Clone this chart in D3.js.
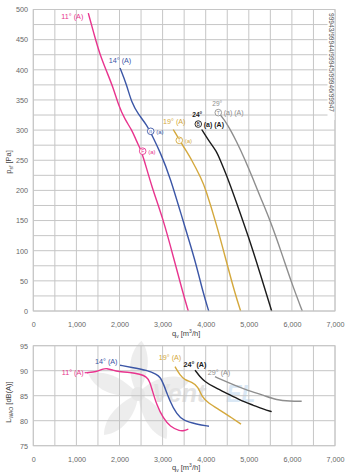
<!DOCTYPE html>
<html><head><meta charset="utf-8">
<script src="https://cdn.jsdelivr.net/npm/d3@7"></script>
<style>
html,body{margin:0;padding:0;background:#fff;}
svg{display:block;font-family:"Liberation Sans",Arial,Helvetica,sans-serif;}
</style></head>
<body><svg id="c" width="355" height="473"></svg>
<script>
// ---- data ----
const flowTicks = [0,1000,2000,3000,4000,5000,6000,7000];
const pressureTicks = [0,50,100,150,200,250,300,350,400,450,500];
const soundTicks = [75,80,85,90,95];
const angles = ["11°","14°","19°","24°","29°"];
const colors = ["#e8348e","#3b56a6","#d4a83c","#1b1b1b","#8e8e8e"];
const sideCode = "99943/99944/99945/99946/99947";

// pressure curves (q in m3/h, p in Pa)
const q11 = [1276,1432,1548,1703,1856,1973,2128,2283,2399,2476,2552,2747,3016,3248,3480,3596];
const p11 = [494,453,425,397,370,342,317,301,281,270,256,206,152,90,28,0];
const q14 = [2012,2167,2283,2436,2631,2784,2940,3171,3480,3752,3944,4070];
const p14 = [403,375,345,326,309,287,264,223,148,85,29,0];
const q19 = [3248,3480,3675,3907,3984,4255,4487,4680,4810];
const p19 = [301,273,251,218,205,143,80,29,0];
const q24 = [3907,4100,4250,4332,4525,4719,4989,5260,5531];
const p24 = [301,279,265,251,218,179,124,63,0];
const q29 = [4332,4487,4719,4912,5105,5260,5492,5763,5995,6241];
const p29 = [326,312,281,251,218,190,151,96,46,0];

// sound curves (q in m3/h, L in dB(A))
const sq11 = [1250,1471,1600,1703,1850,1972,2244,2476,2631,2700,2747,2863,3016,3172,3404,3500,3597];
const L11 = [89.6,89.8,90.3,90.5,90.1,89.8,89.7,89.3,88.8,87.8,86.5,83.1,80.5,78.8,77.9,78.0,78.3];
const sq14 = [2012,2320,2631,2863,2950,3016,3172,3327,3480,3791,4076];
const L14 = [91.1,90.6,90.1,89.3,88.6,87.5,83.8,81.3,80.0,79.3,78.9];
const sq19 = [3288,3404,3520,3675,3828,3907,4061,4332,4564,4819];
const L19 = [90.8,89.1,88.1,87.8,86.8,84.8,83.5,82.1,80.8,79.3];
const sq24 = [3752,3867,3983,4177,4487,4796,5105,5337,5531];
const L24 = [90.1,88.8,87.8,86.8,85.5,84.1,83.1,82.3,81.8];
const sq29 = [4216,4564,4951,5337,5647,5956,6227];
const L29 = [88.8,87.5,86.1,85.1,84.1,83.9,83.9];

// operating point markers on the pressure curves
const markQ = [2538,2724,3387,3828,4292];
const markP = [265,298,283,310,329];
const markLetter = ["F","n","T","B","T"];

// ---- build ----
const svg = d3.select("#c");
const gridC = "#c6c6c6", tickC = "#666";
const x = d3.scaleLinear().domain([0,7000]).range([33.3,335]);
const yP = d3.scaleLinear().domain([0,500]).range([311,9.5]);
const yL = d3.scaleLinear().domain([75,95]).range([445.7,345.7]);
const fmt = d3.format(",");

function grid(y, yMin, yMax, yStep) {
  const g = svg.append("g");
  d3.range(0,7001,500).forEach(v=>{
    g.append("line").attr("x1",x(v)).attr("x2",x(v)).attr("y1",y(yMin)).attr("y2",y(yMax))
      .attr("stroke",gridC).attr("stroke-width",1);
  });
  d3.range(yMin,yMax+0.001,yStep).forEach(v=>{
    g.append("line").attr("x1",x(0)).attr("x2",x(7000)).attr("y1",y(v)).attr("y2",y(v))
      .attr("stroke",gridC).attr("stroke-width",1);
  });
}
grid(yP,0,500,25);

// watermark (bottom chart, behind grid/curves)
const wm = svg.append("g").attr("opacity",0.6);
const fc = [138,394];
[20,92,164,236,308].forEach(a=>{
  wm.append("path")
    .attr("d","M0,0 C4,-14 22,-34 44,-30 C40,-16 26,-4 0,0 Z")
    .attr("transform",`translate(${fc[0]},${fc[1]}) rotate(${a})`)
    .attr("fill","#e2e2e2");
});
wm.append("circle").attr("cx",fc[0]).attr("cy",fc[1]).attr("r",7).attr("fill","#d8d8d8");
wm.append("text").attr("x",152).attr("y",402).attr("font-size",25).attr("font-style","italic")
  .attr("font-weight","bold").attr("fill","#d2d2d2").text("Vent");
wm.append("text").attr("x",226).attr("y",402).attr("font-size",23).attr("font-style","italic")
  .attr("font-weight","bold").attr("fill","#c2daf0").text("EL");

grid(yL,75,95,5);

// axes via d3 axis generators (tick labels only)
function styleAxis(g){
  g.select(".domain").remove();
  g.selectAll(".tick line").remove();
  g.selectAll("text").attr("fill",tickC).attr("font-size",7.2).attr("font-family","Liberation Sans, Arial, sans-serif");
}
svg.append("g").attr("transform","translate(0,318)")
  .call(d3.axisBottom(x).tickValues(flowTicks).tickFormat(fmt).tickSize(0).tickPadding(4)).call(styleAxis);
svg.append("g").attr("transform","translate(0,452.5)")
  .call(d3.axisBottom(x).tickValues(flowTicks).tickFormat(fmt).tickSize(0).tickPadding(4)).call(styleAxis);
svg.append("g").attr("transform","translate(28,0)")
  .call(d3.axisLeft(yP).tickValues(pressureTicks).tickSize(0).tickPadding(0)).call(styleAxis);
svg.append("g").attr("transform","translate(28,0)")
  .call(d3.axisLeft(yL).tickValues(soundTicks).tickSize(0).tickPadding(0)).call(styleAxis);

// axis titles
function qTitle(yy){
  const t = svg.append("text").attr("x",172).attr("y",yy).attr("font-size",7.5).attr("fill","#444");
  t.append("tspan").text("q");
  t.append("tspan").attr("font-size",5).attr("dy",2).text("v");
  t.append("tspan").attr("dy",-2).text(" [m");
  t.append("tspan").attr("font-size",5).attr("dy",-3).text("3");
  t.append("tspan").attr("dy",3).text("/h]");
}
qTitle(335.5);
qTitle(469.5);
function yTitle(cy, main, sub, unit){
  const t = svg.append("text").attr("transform",`translate(11,${cy}) rotate(-90)`)
    .attr("text-anchor","middle").attr("font-size",7.5).attr("fill","#444");
  t.append("tspan").text(main);
  t.append("tspan").attr("font-size",5).attr("dy",2).text(sub);
  t.append("tspan").attr("dy",-2).text(" " + unit);
}
yTitle(162,"p","sf","[Pa]");
yTitle(402,"L","WAO","[dB(A)]");

// curves
const topSeries = [[q11,p11],[q14,p14],[q19,p19],[q24,p24],[q29,p29]];
const botSeries = [[sq11,L11],[sq14,L14],[sq19,L19],[sq24,L24],[sq29,L29]];
const lineTop = d3.line().x(d=>x(d[0])).y(d=>yP(d[1])).curve(d3.curveBasis);
const lineBot = d3.line().x(d=>x(d[0])).y(d=>yL(d[1])).curve(d3.curveBasis);
topSeries.forEach((s,i)=>{
  svg.append("path").datum(d3.zip(s[0],s[1])).attr("d",lineTop)
    .attr("fill","none").attr("stroke",colors[i]).attr("stroke-width",1.4);
});
botSeries.forEach((s,i)=>{
  svg.append("path").datum(d3.zip(s[0],s[1])).attr("d",lineBot)
    .attr("fill","none").attr("stroke",colors[i]).attr("stroke-width",1.4);
});

// frames
svg.append("rect").attr("x",x(0)).attr("y",yP(500)).attr("width",x(7000)-x(0)).attr("height",yP(0)-yP(500))
  .attr("fill","none").attr("stroke",gridC);
svg.append("rect").attr("x",x(0)).attr("y",yL(95)).attr("width",x(7000)-x(0)).attr("height",yL(75)-yL(95))
  .attr("fill","none").attr("stroke",gridC);

// side code
svg.append("rect").attr("x",327.5).attr("y",12).attr("width",7).attr("height",108).attr("fill","#fff");
svg.append("text").attr("transform","translate(328.5,13) rotate(90)").attr("font-size",6.6)
  .attr("fill","#555").text(sideCode);

// labels
function lab(t, xx, yy, col, anchor, bold, size){
  return svg.append("text").attr("x",xx).attr("y",yy).attr("fill",col).attr("font-size",size||7.2)
    .attr("text-anchor",anchor||"start").attr("font-weight",bold?"bold":"normal").text(t);
}
const s0 = topSeries.map(s=>[x(s[0][0]), yP(s[1][0])]);
lab(angles[0]+" (A)", s0[0][0]-5, s0[0][1]+6, colors[0], "end");
lab(angles[1]+" (A)", s0[1][0], s0[1][1]-5, colors[1], "middle");
lab(angles[2]+" (A)", s0[2][0]+1, s0[2][1]-5, colors[2], "middle");
lab(angles[3], x(markQ[3])-1, yP(markP[3])-7, colors[3], "middle", true, 6.6);
lab(angles[4], x(markQ[4])-1, yP(markP[4])-6.5, colors[4], "middle", false, 6.6);

markQ.forEach((q,i)=>{
  const cx = x(q), cy = yP(markP[i]);
  svg.append("circle").attr("cx",cx).attr("cy",cy).attr("r",3.3).attr("fill","#fff")
    .attr("stroke",colors[i]).attr("stroke-width",0.9);
  svg.append("text").attr("x",cx).attr("y",cy+1.9).attr("text-anchor","middle").attr("font-size",5)
    .attr("fill",colors[i]).text(markLetter[i]);
  const extra = i>=3 ? "(a) (A)" : "(a)";
  lab(extra, cx+5.5, cy+2.5, colors[i], "start", i===3, i>=3?7:6);
});

const b0 = botSeries.map(s=>[x(s[0][0]), yL(s[1][0])]);
svg.append("line").attr("x1",b0[0][0]-2.5).attr("x2",b0[0][0]+1).attr("y1",b0[0][1]).attr("y2",b0[0][1])
  .attr("stroke",colors[0]).attr("stroke-width",1.2);
lab(angles[0]+" (A)", b0[0][0]-3.5, b0[0][1]+2.5, colors[0], "end");
lab(angles[1]+" (A)", b0[1][0]-2.5, b0[1][1]-1.5, colors[1], "end");
lab(angles[2]+" (A)", b0[2][0]-5, b0[2][1]-7, colors[2], "middle");
lab(angles[3]+" (A)", b0[3][0]+0, b0[3][1]-3.5, colors[3], "middle", true);
lab(angles[4]+" (A)", b0[4][0]+4, b0[4][1]-2, colors[4], "middle");
</script></body></html>
